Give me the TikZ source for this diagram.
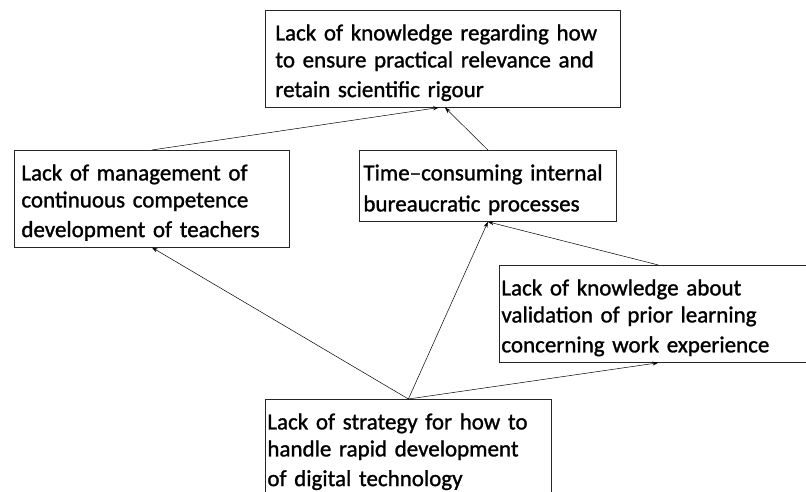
\documentclass[tikz,border=0pt]{standalone}
\usepackage{fontspec}
\setmainfont{Carlito}[FakeBold=1.2]
\usetikzlibrary{arrows.meta}
\newcommand{\boxstrut}{\vrule height 25pt depth 5pt width 0pt}

\begin{document}
\begin{tikzpicture}[x=1pt,y=1pt,
  cause/.style={draw=black!85,line width=0.8pt,anchor=north west,align=left,inner ysep=5pt,font=\fontsize{23}{27}\selectfont},
  link/.style={-{Stealth[length=6pt,width=4pt]},line width=0.5pt}]
\useasboundingbox (0,0) rectangle (806,491);\clip (0,0) rectangle (806,491);
\node[cause,inner xsep=10pt,text width=335pt] (rigour) at (265,481) {\boxstrut Lack of knowledge regarding how\\to ensure practical relevance and\\retain scientific rigour\boxstrut};
\node[cause,inner xsep=7pt,text width=261pt] (mgmt) at (14,341) {\boxstrut Lack of management of\\continuous competence\\development of teachers\boxstrut};
\node[cause,inner xsep=4pt,text width=249pt] (bureau) at (359,341) {\boxstrut Time--consuming internal\\bureaucratic processes\boxstrut};
\node[cause,inner xsep=2pt,text width=314pt] (validation) at (499,226) {\boxstrut Lack of knowledge about\\validation of prior learning\\concerning work experience\boxstrut};
\node[cause,inner xsep=2pt,text width=282pt] (digital) at (265,92) {\boxstrut Lack of strategy for how to\\handle rapid development\\of digital technology\boxstrut};
\draw[link] (mgmt.north) -- ([xshift=-4pt]rigour.south);\draw[link] (bureau.north) -- ([xshift=2pt]rigour.south);
\draw[link] (digital.north) -- (mgmt.south);\draw[link] (digital.north) -- (bureau.south);
\draw[link] (digital.north) -- (validation.south);\draw[link] (validation.north) -- (bureau.south);
\end{tikzpicture}
\end{document}
